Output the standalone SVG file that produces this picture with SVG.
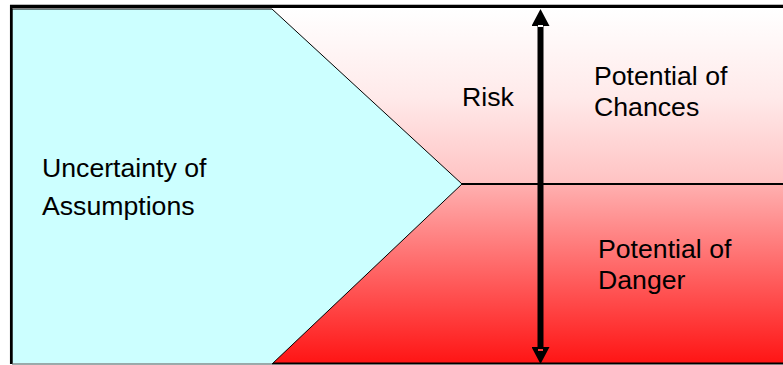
<svg xmlns="http://www.w3.org/2000/svg" width="783" height="365" viewBox="0 0 783 365">
  <defs>
    <linearGradient id="gUp" gradientUnits="userSpaceOnUse" x1="0" y1="9" x2="0" y2="184">
      <stop offset="0" stop-color="#ffffff"/>
      <stop offset="0.5" stop-color="#ffeaea"/>
      <stop offset="1" stop-color="#ffc2c2"/>
    </linearGradient>
    <linearGradient id="gDown" gradientUnits="userSpaceOnUse" x1="0" y1="184" x2="0" y2="364">
      <stop offset="0" stop-color="#ffb0b0"/>
      <stop offset="1" stop-color="#ff1414"/>
    </linearGradient>
    <marker id="head" markerUnits="userSpaceOnUse" markerWidth="18" markerHeight="18" refX="0" refY="9" orient="auto-start-reverse" viewBox="0 0 18 18">
      <path d="M0,0 L17,9 L0,18 Z" fill="#000"/>
    </marker>
    <style>
      .lbl { font-family: "Liberation Sans", Arial, sans-serif; font-size: 26.67px; fill: #000; }
    </style>
  </defs>
  <rect width="783" height="365" fill="#ffffff"/>
  <g id="chances-region">
    <rect x="272" y="9" width="511" height="175" fill="url(#gUp)"/>
  </g>
  <g id="danger-region">
    <rect x="272" y="184" width="511" height="180" fill="url(#gDown)"/>
    <line x1="272" y1="363.5" x2="783" y2="363.5" stroke="#000" stroke-width="2"/>
  </g>
  <g id="assumptions">
    <polygon points="12,9 272,9 462,184 272,364 12,364" fill="#ccffff" stroke="#000" stroke-width="1"/>
    <line x1="12" y1="364" x2="272" y2="364" stroke="#a8b8b8" stroke-width="1.5"/>
  </g>
  <g id="frame">
    <line x1="10" y1="6.5" x2="783" y2="6.5" stroke="#000" stroke-width="3"/>
    <line x1="10" y1="4.5" x2="783" y2="4.5" stroke="#bbbbbb" stroke-width="1"/>
    <line x1="11.2" y1="5" x2="11.2" y2="364" stroke="#000" stroke-width="2.5"/>
  </g>
  <g id="connectors">
    <line x1="462" y1="184" x2="783" y2="184" stroke="#000" stroke-width="2"/>
    <line x1="540.5" y1="26" x2="540.5" y2="347" stroke="#000" stroke-width="6" marker-start="url(#head)" marker-end="url(#head)"/>
    <rect x="538" y="25" width="5" height="2" fill="#ffffff"/>
    <rect x="538" y="349" width="5" height="2" fill="#ff3a3a"/>
  </g>
  <g id="labels">
    <text class="lbl" x="42" y="177">Uncertainty of</text>
    <text class="lbl" x="42" y="215">Assumptions</text>
    <text class="lbl" x="462" y="106">Risk</text>
    <text class="lbl" x="594" y="85">Potential of</text>
    <text class="lbl" x="594" y="116">Chances</text>
    <text class="lbl" x="598" y="258">Potential of</text>
    <text class="lbl" x="598" y="289">Danger</text>
  </g>
</svg>
